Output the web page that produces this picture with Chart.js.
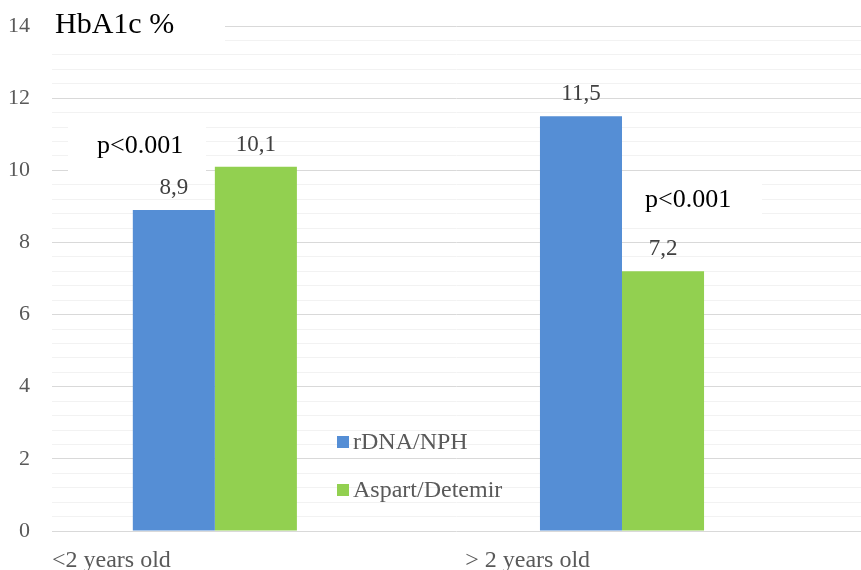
<!DOCTYPE html>
<html>
<head>
<meta charset="utf-8">
<script src="https://cdn.jsdelivr.net/npm/chart.js@4/dist/chart.umd.min.js"></script>
<style>
  html, body { margin: 0; padding: 0; background: #fff; }
  #wrap { width: 861px; height: 570px; }
</style>
</head>
<body>
<div id="wrap"><canvas id="c" width="861" height="570"></canvas></div>
<script>
// data
const categories = ['<2 years old', '> 2 years old'];
const seriesNames = ['rDNA/NPH', 'Aspart/Detemir'];
const rdnaNph = [8.9, 11.5];
const aspartDetemir = [10.1, 7.2];
const yTicks = [0, 2, 4, 6, 8, 10, 12, 14];
const pLabels = ['p<0.001', 'p<0.001'];

const BLUE = '#558ed5';
const GREEN = '#92d050';
const SERIF = "'Liberation Serif', 'Times New Roman', serif";

// x is a linear scale so the category slots can sit where the original put them
const X_MIN = -0.4, X_MAX = 1.587;
const X_LABEL_AT = [-0.4, 0.615];

const isMajor = v => Math.abs(v - Math.round(v)) < 1e-6 && yTicks.includes(Math.round(v));

const overlay = {
  id: 'overlay',
  beforeDatasetsDraw(chart) {
    const c = chart.ctx;
    c.save();
    // white boxes that hide the gridlines behind the texts
    c.fillStyle = '#fff';
    c.fillRect(52, 0, 173, 47);
    c.fillRect(68, 116, 138, 62);
    c.fillRect(622, 177, 140, 44);
    c.fillStyle = '#000';
    c.textBaseline = 'alphabetic';
    c.textAlign = 'left';
    c.font = '30px ' + SERIF;
    c.fillText('HbA1c %', 55, 33);
    c.font = '26px ' + SERIF;
    c.fillText(pLabels[0], 97, 153);
    c.fillText(pLabels[1], 645, 207);
    c.restore();
  },
  afterDatasetsDraw(chart) {
    const c = chart.ctx;
    c.save();
    c.font = '23px ' + SERIF;
    c.fillStyle = '#404040';
    c.textAlign = 'center';
    c.textBaseline = 'alphabetic';
    chart.data.datasets.forEach((ds, i) => {
      chart.getDatasetMeta(i).data.forEach((bar, j) => {
        const v = ds.data[j].y;
        c.fillText(String(v).replace('.', ','), bar.x, bar.y - 16);
      });
    });
    // legend inside the plot
    const lx = 337, ly = [436, 484];
    c.textAlign = 'left';
    c.font = '24px ' + SERIF;
    chart.data.datasets.forEach((ds, i) => {
      c.fillStyle = ds.backgroundColor;
      c.fillRect(lx, ly[i], 12, 12);
      c.fillStyle = '#595959';
      c.fillText(ds.label, lx + 16, ly[i] + 13);
    });
    c.restore();
  }
};

new Chart(document.getElementById('c'), {
  type: 'bar',
  data: {
    datasets: [
      { label: seriesNames[0], data: rdnaNph.map((v, i) => ({ x: i, y: v })), backgroundColor: BLUE },
      { label: seriesNames[1], data: aspartDetemir.map((v, i) => ({ x: i, y: v })), backgroundColor: GREEN },
    ],
  },
  options: {
    responsive: false,
    animation: false,
    devicePixelRatio: 1,
    layout: { padding: { top: 26, right: 0, left: 0, bottom: 0 } },
    categoryPercentage: 0.403,
    barPercentage: 1,
    plugins: { legend: { display: false }, tooltip: { enabled: false } },
    scales: {
      x: {
        type: 'linear',
        min: X_MIN, max: X_MAX,
        offset: false,
        grid: { display: false },
        border: { display: false },
        afterBuildTicks: s => { s.ticks = X_LABEL_AT.map(v => ({ value: v })); },
        afterFit: s => { s.height = 39; s.paddingLeft = 0; s.paddingRight = 0; },
        ticks: {
          autoSkip: false, maxRotation: 0, align: 'start', padding: 7,
          color: '#595959', font: { family: SERIF, size: 24 },
          callback: (v, i) => categories[i],
        },
      },
      y: {
        min: 0, max: 14,
        border: { display: false },
        afterFit: s => { s.width = 52; s.paddingTop = 0; s.paddingBottom = 0; },
        grid: {
          drawTicks: false,
          color: ctx => isMajor(ctx.tick.value) ? '#d9d9d9' : '#f2f2f2',
        },
        ticks: {
          stepSize: 0.4, padding: 22, autoSkip: false,
          color: '#595959', font: { family: SERIF, size: 22 },
          callback: v => isMajor(v) ? String(Math.round(v)) : '',
        },
      },
    },
  },
  plugins: [overlay],
});
</script>
</body>
</html>
